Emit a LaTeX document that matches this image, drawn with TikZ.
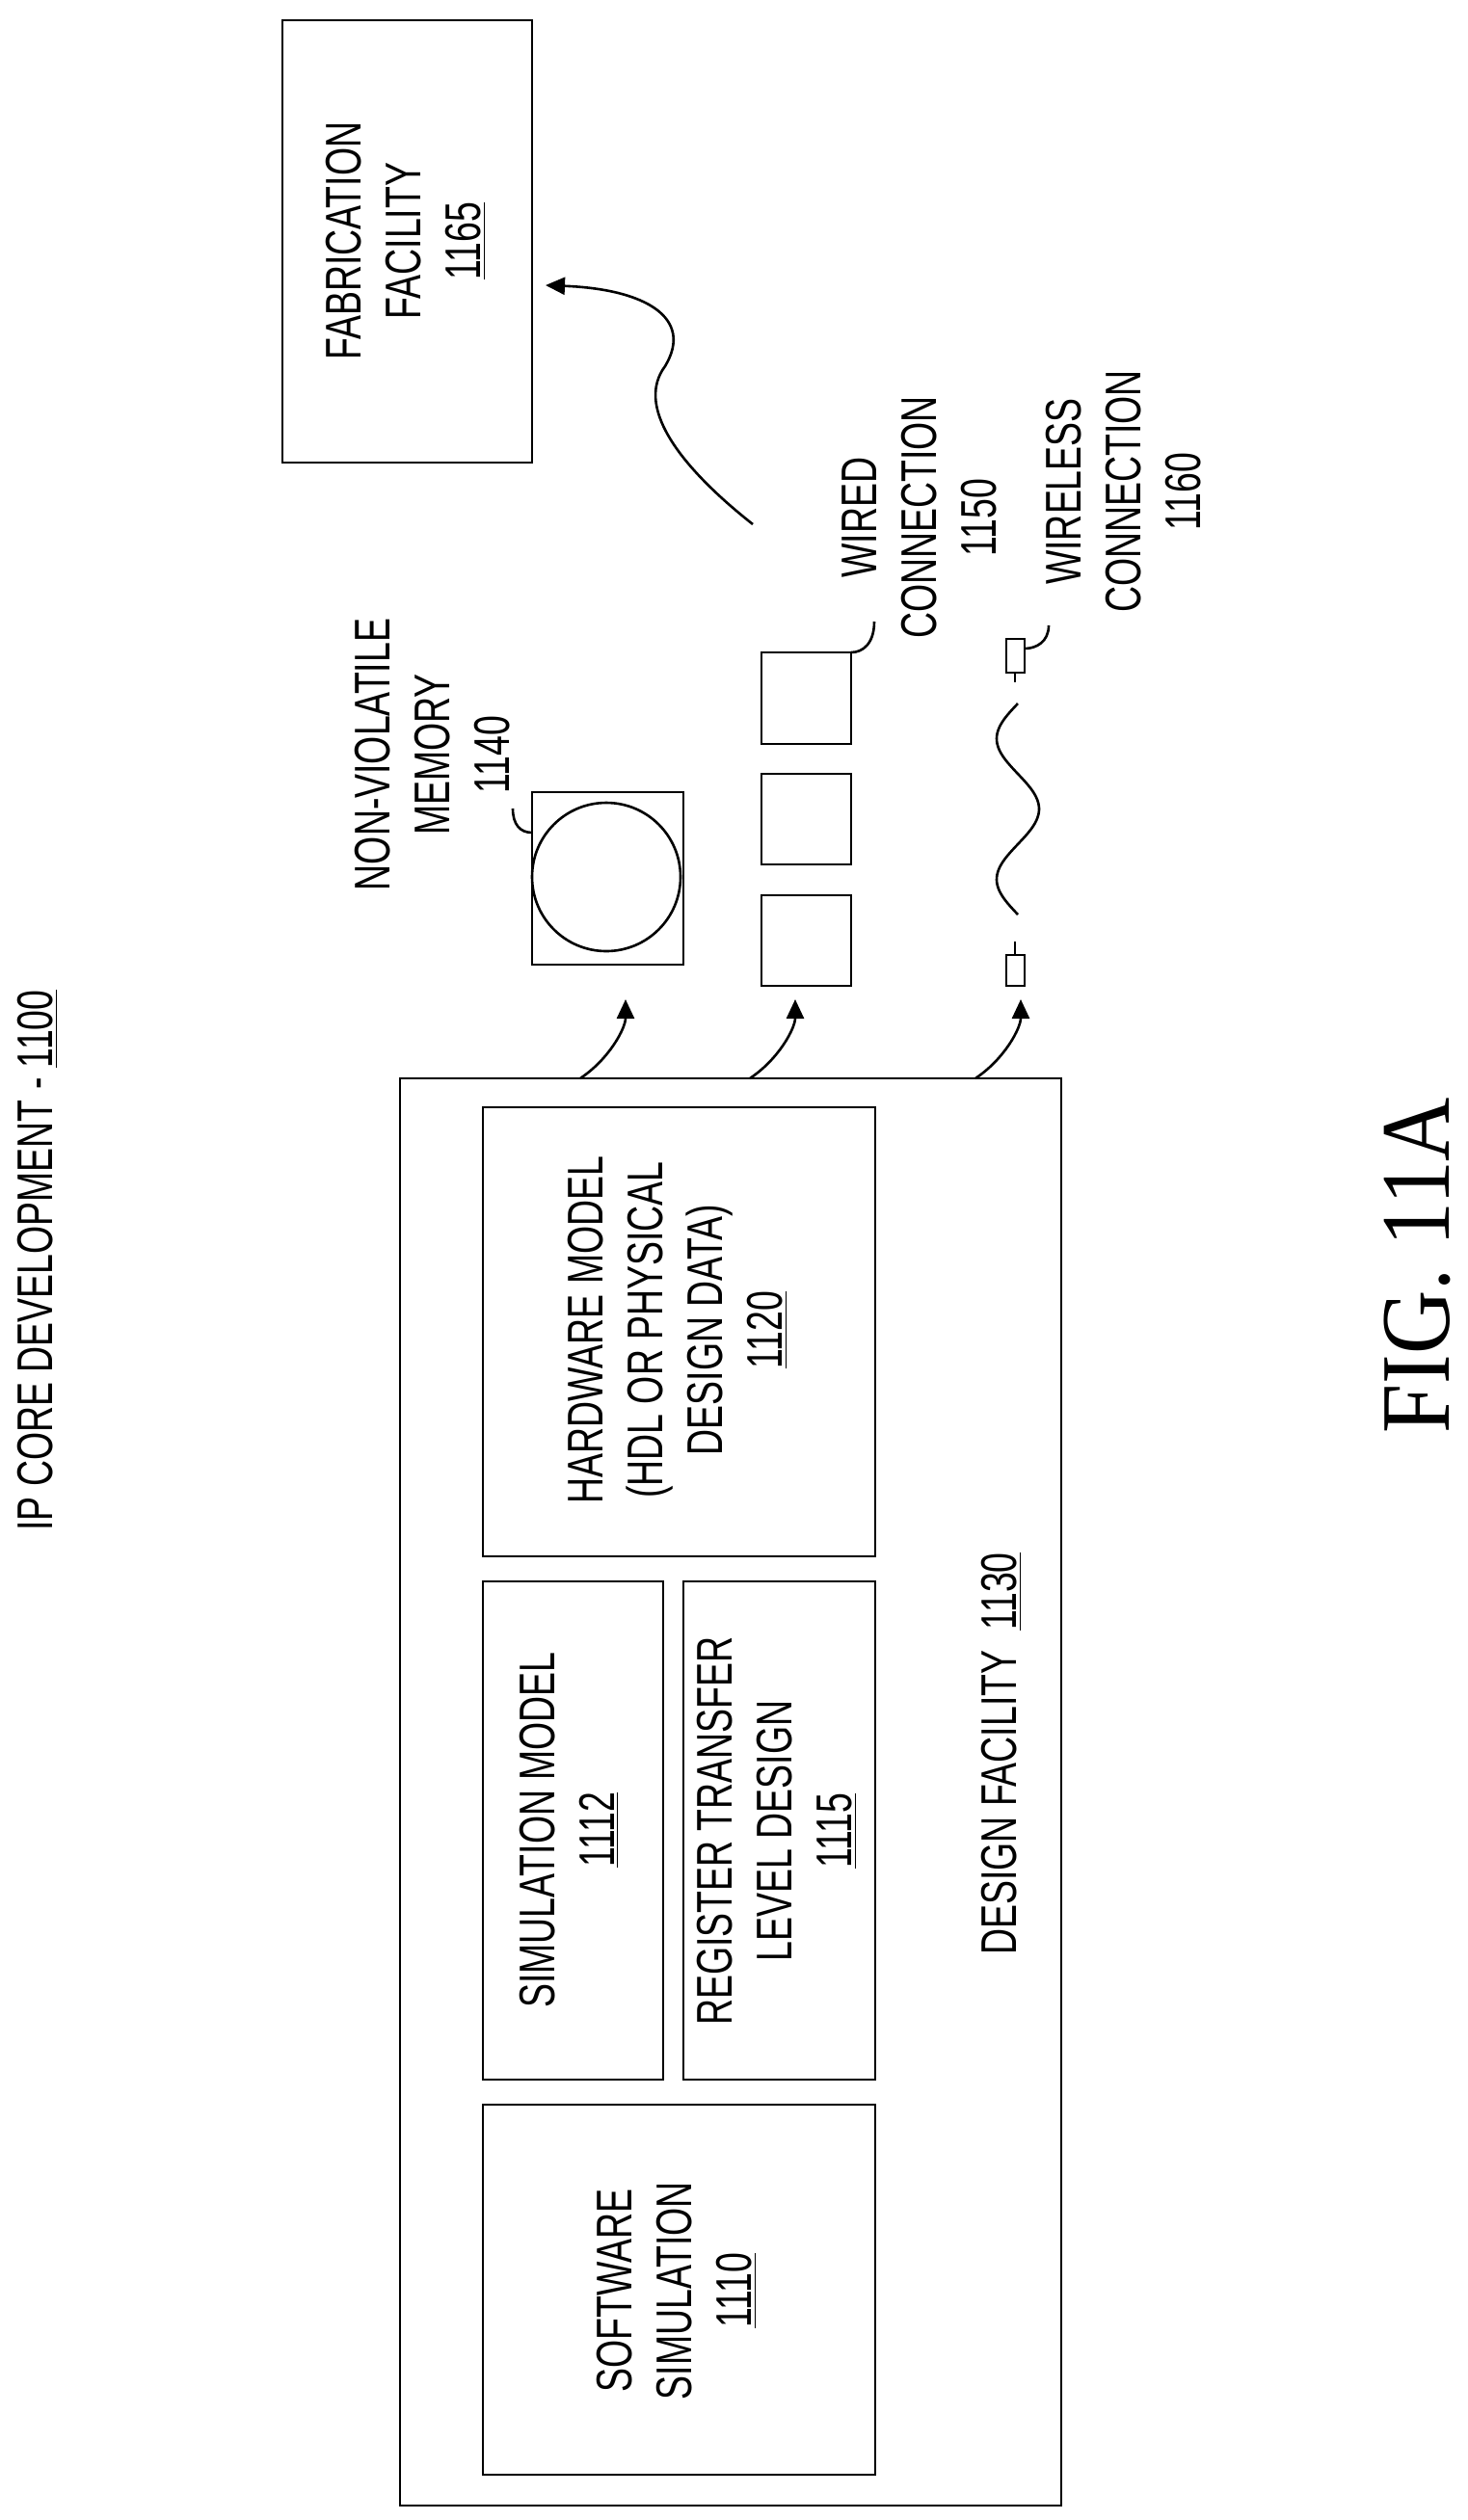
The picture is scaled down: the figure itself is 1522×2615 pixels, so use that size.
\documentclass[tikz,border=0pt]{standalone}
\usepackage{fontspec}
\setmainfont[FakeStretch=0.72]{Liberation Sans}
\newfontfamily\timesf[FakeStretch=0.9]{Liberation Serif}
\usetikzlibrary{arrows.meta,calc}
\begin{document}
\begin{tikzpicture}[x=0.5pt,y=-0.5pt,
  box/.style={draw,line width=1.3pt},
  lbl/.style={rotate=90,align=center,font=\fontsize{26}{31}\selectfont,inner sep=0pt},
  ln/.style={line width=1.3pt},
  arr/.style={line width=1.3pt,-{Triangle[length=10pt,width=9pt]}}]
\useasboundingbox (0,0) rectangle (1522,2615);
% design facility
\draw[box] (415,1119) rectangle (1101,2600);
\draw[box] (501,1149) rectangle (908,1615);
\draw[box] (501,1641) rectangle (688,2158);
\draw[box] (709,1641) rectangle (908,2158);
\draw[box] (501,2184) rectangle (908,2568);
\node[lbl] (hw) at (703,1380) {HARDWARE MODEL\\(HDL OR PHYSICAL\\DESIGN DATA)\\\underline{1120}};
\node[lbl] (sm) at (590,1899) {SIMULATION MODEL\\\underline{1112}};
\node[lbl] (rtl) at (806,1900) {REGISTER TRANSFER\\LEVEL DESIGN\\\underline{1115}};
\node[lbl] (sw) at (702,2377) {SOFTWARE\\SIMULATION\\\underline{1110}};
\node[lbl] (dfl) at (1039,1820) {DESIGN FACILITY\ \ \underline{1130}};
\node[lbl] (ip) at (39,1308) {IP CORE DEVELOPMENT - \underline{1100}};
% fab
\draw[box] (293,21) rectangle (552,480);
\node[lbl] (fab) at (421,250) {FABRICATION\\FACILITY\\\underline{1165}};
\coordinate (fs) at (781,544);
\coordinate (fe) at (566,296);
\draw[arr] (fs) .. controls (700,480) and (660,420) .. (690,380) .. controls (720,330) and (670,300) .. (fe);
% memory
\draw[box] (552,822) rectangle (709,1001);
\draw[ln] (629,910) circle[radius=38.5pt];
\node[lbl] (mem) at (449,783) {NON-VIOLATILE\\MEMORY\\1140};
\coordinate (m1) at (532,839);
\coordinate (m2) at (552,864);
\draw[ln] (m1) .. controls (532,856) and (540,864) .. (m2);
% wired
\draw[box] (790,677) rectangle (883,772);
\draw[box] (790,803) rectangle (883,897);
\draw[box] (790,929) rectangle (883,1023);
\node[lbl] (wl) at (954,537) {WIRED\\CONNECTION\\1150};
\coordinate (w1) at (907,645);
\coordinate (w2) at (883,677);
\draw[ln] (w1) .. controls (907,668) and (895,677) .. (w2);
% wireless
\draw[box] (1044,663) rectangle (1063,698);
\draw[ln] (1053,698) -- (1053,708);
\draw[box] (1044,991) rectangle (1063,1023);
\draw[ln] (1053,977) -- (1053,991);
\draw[ln,domain=0:3,samples=80,variable=\t] plot ({1056-22*sin(\t*180)}, {949-\t*73});
\node[lbl] (wll) at (1166,510) {WIRELESS\\CONNECTION\\1160};
\coordinate (r1) at (1088,649);
\coordinate (r2) at (1063,673);
\draw[ln] (r1) .. controls (1088,666) and (1075,673) .. (r2);
% arrows from design facility
\coordinate (a1) at (602,1119); \coordinate (b1) at (649,1037);
\coordinate (a2) at (778,1119); \coordinate (b2) at (825,1037);
\coordinate (a3) at (1012,1119); \coordinate (b3) at (1059,1037);
\foreach \i in {1,2,3}{\draw[arr] (a\i) .. controls ($(a\i)+(30,-20)$) and ($(b\i)+(0,30)$) .. (b\i);}
\node[rotate=90,font=\timesf\fontsize{51}{51}\selectfont,inner sep=0pt] (fig) at (1470,1313) {FIG. 11A};
\end{tikzpicture}
\end{document}
